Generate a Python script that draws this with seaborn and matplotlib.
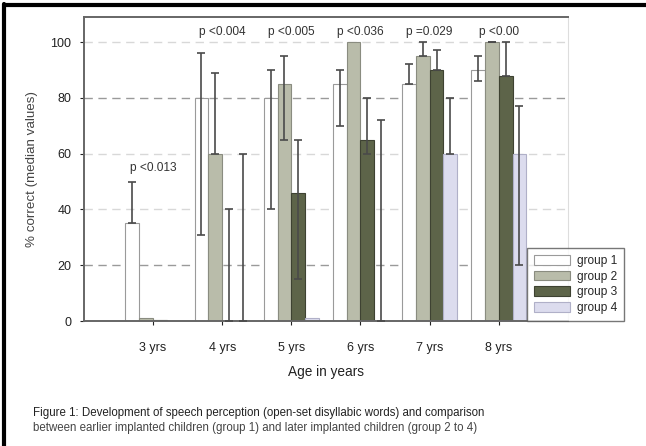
import numpy as np
import pandas as pd
import matplotlib
matplotlib.use('Agg')
import matplotlib.pyplot as plt
from matplotlib.lines import Line2D
import seaborn as sns

# ── data (medians with lower / upper error limits) ──
ages   = ['3 yrs', '4 yrs', '5 yrs', '6 yrs', '7 yrs', '8 yrs']
groups = ['group 1', 'group 2', 'group 3', 'group 4']

g1_med = [35, 80, 80, 85, 85, 90]
g2_med = [1, 60, 85, 100, 95, 100]
g3_med = [0.5, 0, 46, 65, 90, 88]
g4_med = [0, 0, 1, 0, 60, 60]

g1_lo = [35, 31, 40, 70, 85, 86]
g1_hi = [50, 96, 90, 90, 92, 95]
g2_lo = [np.nan, 60, 65, np.nan, 95, 100]
g2_hi = [np.nan, 89, 95, np.nan, 100, 100]
g3_lo = [np.nan, 0, 15, 60, 90, 88]
g3_hi = [np.nan, 40, 65, 80, 97, 100]
g4_lo = [np.nan, 0, np.nan, 0, 60, 20]
g4_hi = [np.nan, 60, np.nan, 72, 80, 77]

p_labels = ['p <0.013', 'p <0.004', 'p <0.005', 'p <0.036', 'p =0.029', 'p <0.00']
p_y      = [55, 103.5, 103.5, 103.5, 103.5, 103.5]

colors = ['#ffffff', '#b9bcaa', '#5d6449', '#dcdcee']
edges  = ['#9a9a9a', '#8a8c80', '#3e4232', '#b0b0c8']

meds = [g1_med, g2_med, g3_med, g4_med]
los  = [g1_lo, g2_lo, g3_lo, g4_lo]
his  = [g1_hi, g2_hi, g3_hi, g4_hi]

df = pd.DataFrame({
    'age':    np.tile(ages, len(groups)),
    'group':  np.repeat(groups, len(ages)),
    'median': np.concatenate(meds),
})

sns.set_style('white')
plt.rcParams['font.family'] = ['Liberation Sans', 'DejaVu Sans']

fig = plt.figure(figsize=(6.46, 4.46), dpi=100)
ax = fig.add_axes([0.130, 0.280, 0.749, 0.682])

sns.barplot(data=df, x='age', y='median', hue='group', order=ages, hue_order=groups,
            palette=colors, errorbar=None, width=0.8, dodge=True, ax=ax,
            linewidth=0.8, saturation=1)

bar_conts = list(ax.containers)

# edge colours + asymmetric error bars
for i, cont in enumerate(bar_conts):
    for j, bar in enumerate(cont.patches):
        bar.set_edgecolor(edges[i])
        bar.set_linewidth(0.8)
        lo, hi = los[i][j], his[i][j]
        if np.isnan(lo):
            continue
        xc = bar.get_x() + bar.get_width() / 2
        m = meds[i][j]
        ax.errorbar(xc, m, yerr=[[m - lo], [hi - m]], fmt='none',
                    ecolor='#4a4a4a', elinewidth=1.2, capsize=3, capthick=1.2, zorder=3)

# grid lines
for yv in [20, 40, 60, 80, 100]:
    col = '#9a9a9a' if yv in (20, 80) else '#d8d8d8'
    ax.axhline(yv, color=col, lw=1, ls=(0, (6, 4)), zorder=0)

for k, (txt, yv) in enumerate(zip(p_labels, p_y)):
    ax.text(k, yv, txt, ha='center', va='center', fontsize=8.6, color='#333333')

ax.set_xlim(-1, 6)
ax.set_ylim(0, 109)
ax.set_yticks([0, 20, 40, 60, 80, 100])
ax.tick_params(axis='both', labelsize=9, colors='#222222', length=3, width=0.8,
               direction='out', left=True, bottom=True)
ax.tick_params(axis='x', pad=12)
ax.tick_params(axis='y', pad=6)
ax.set_xlabel('Age in years', fontsize=9.8, color='#222222', labelpad=8)
ax.set_ylabel('% correct (median values)', fontsize=9.6, color='#444444', labelpad=9)

for side in ['left', 'top', 'bottom']:
    ax.spines[side].set_color('#666666')
    ax.spines[side].set_linewidth(1.4)
ax.spines['right'].set_color('#dddddd')
ax.spines['right'].set_linewidth(0.8)

leg = ax.legend(loc='lower left', bbox_to_anchor=(0.915, 0.0),
                fontsize=8.6, frameon=True, fancybox=False, handlelength=3.0,
                handleheight=0.9, labelspacing=0.3, borderpad=0.6, handletextpad=0.6,
                borderaxespad=0.0)
leg.get_frame().set_edgecolor('#555555')
leg.get_frame().set_linewidth(1.0)
for h, ec in zip(leg.legend_handles, edges):
    h.set_edgecolor(ec)

# caption below the chart
fig.text(0.051, 0.074, 'Figure 1: Development of speech perception (open-set disyllabic words) and comparison',
         fontsize=8.3, color='#222222', va='center')
fig.text(0.051, 0.040, 'between earlier implanted children (group 1) and later implanted children (group 2 to 4)',
         fontsize=8.3, color='#444444', va='center')

# outer frame (left and top edges)
fig.add_artist(Line2D([0.006, 0.006], [0, 0.99], transform=fig.transFigure, color='black', lw=3))
fig.add_artist(Line2D([0.006, 1.0], [0.988, 0.988], transform=fig.transFigure, color='black', lw=3))

fig.savefig('out.png', dpi=100)
